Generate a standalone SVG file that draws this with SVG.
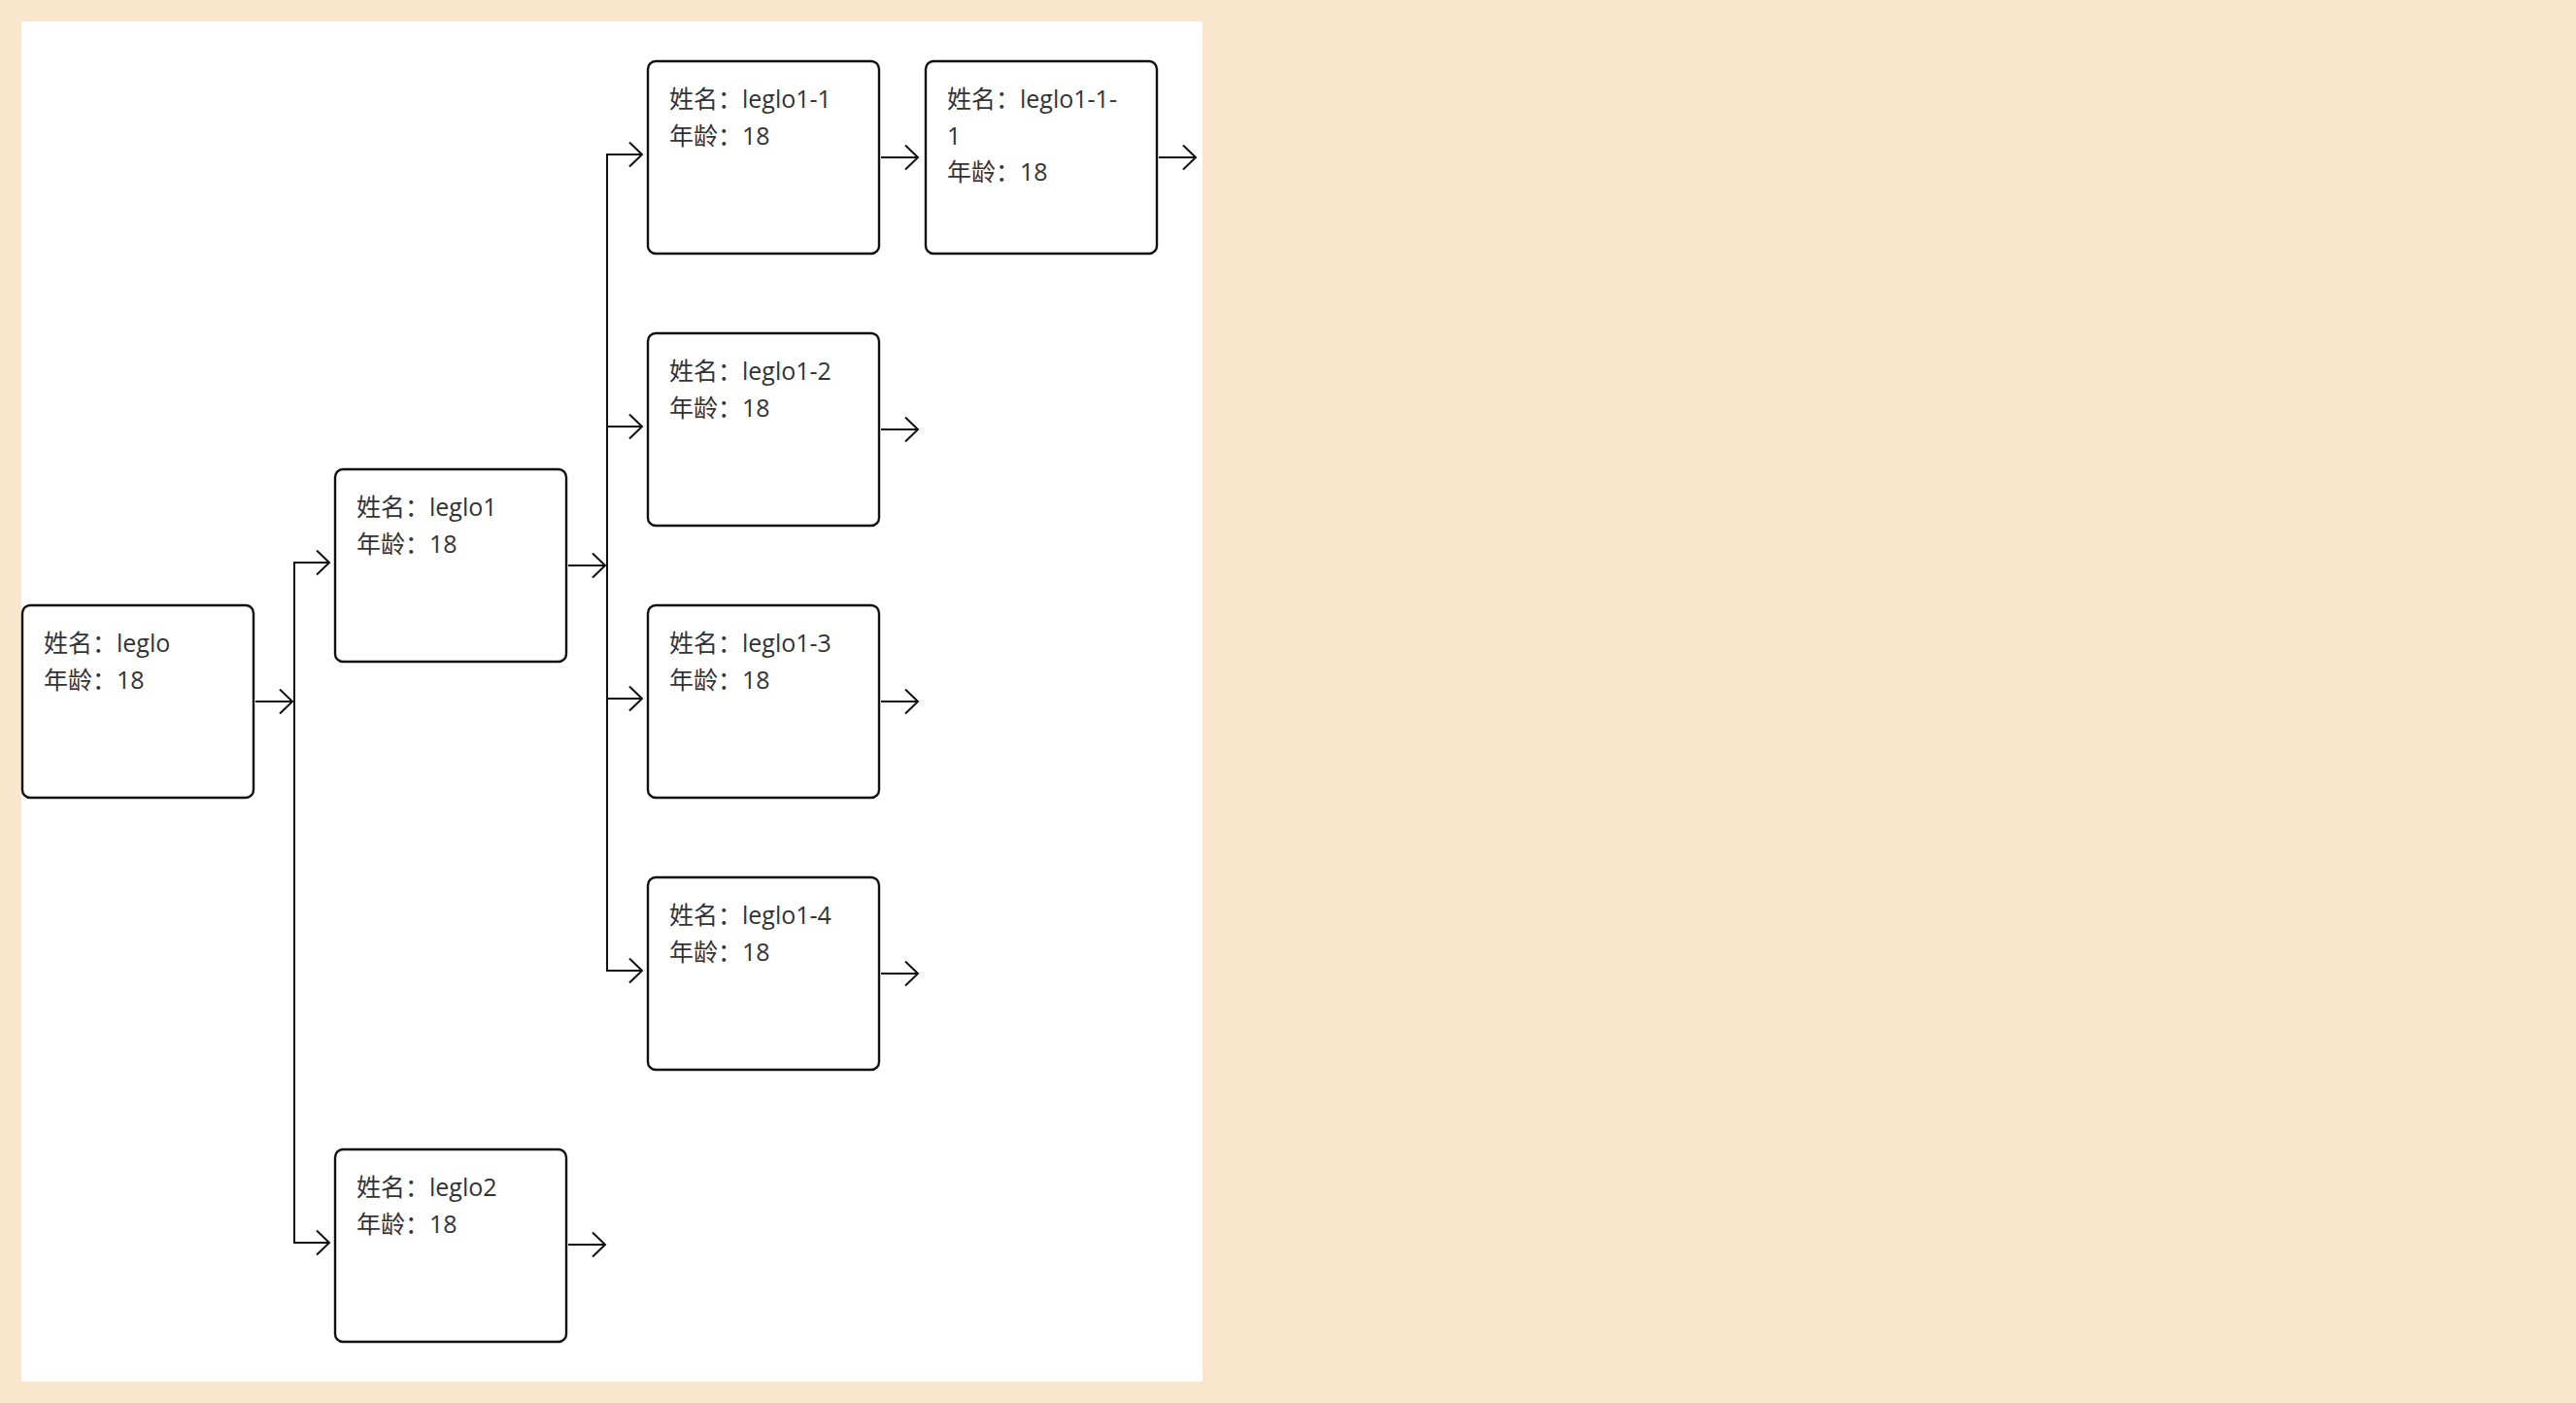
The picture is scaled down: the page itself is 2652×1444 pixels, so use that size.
<svg xmlns="http://www.w3.org/2000/svg" width="2652" height="1444" viewBox="0 0 2652 1444">
<style>
.bg{fill:#F9E6CD}
.panel{fill:#FFFFFF}
.box{fill:#FFFFFF;stroke:#111111;stroke-width:2.4}
.t{font-family:"Open Sans","Noto Sans CJK SC",sans-serif;font-size:25px;fill:#333333}
.c{fill:none;stroke:#111111;stroke-width:2}
.a{fill:none;stroke:#111111;stroke-width:2;marker-end:url(#arr)}
</style>
<defs>
<marker id="arr" markerUnits="userSpaceOnUse" markerWidth="30" markerHeight="30" viewBox="-16 -15 18 30" refX="0" refY="0" orient="auto" overflow="visible">
<path d="M-13,-12.5 L0,0 L-13,12.5" fill="none" stroke="#111111" stroke-width="2"/>
</marker>
</defs>
<rect class="bg" x="0" y="0" width="2652" height="1444"/>
<rect class="panel" x="22" y="22" width="1216" height="1400"/>
<g id="connectors">
<path class="a" d="M263,722 H301"/>
<path class="c" d="M303,579 V1279"/>
<path class="a" d="M302,579 H339"/>
<path class="a" d="M302,1279 H339"/>
<path class="a" d="M585,582 H623"/>
<path class="c" d="M625,159 V999"/>
<path class="a" d="M624,159 H661"/>
<path class="a" d="M624,439 H661"/>
<path class="a" d="M624,719 H661"/>
<path class="a" d="M624,999 H661"/>
<path class="a" d="M907,162 H945"/>
<path class="a" d="M1193,162 H1231"/>
<path class="a" d="M907,442 H945"/>
<path class="a" d="M907,722 H945"/>
<path class="a" d="M907,1002 H945"/>
<path class="a" d="M585,1281 H623"/>
</g>
<g id="node-leglo">
<rect class="box" x="23" y="623" width="238" height="198" rx="8"/>
<text class="t" x="45" y="671">姓名：leglo</text>
<text class="t" x="45" y="708.5">年龄：18</text>
</g>
<g id="node-leglo1">
<rect class="box" x="345" y="483" width="238" height="198" rx="8"/>
<text class="t" x="367" y="531">姓名：leglo1</text>
<text class="t" x="367" y="568.5">年龄：18</text>
</g>
<g id="node-leglo2">
<rect class="box" x="345" y="1183" width="238" height="198" rx="8"/>
<text class="t" x="367" y="1231">姓名：leglo2</text>
<text class="t" x="367" y="1268.5">年龄：18</text>
</g>
<g id="node-leglo1-1">
<rect class="box" x="667" y="63" width="238" height="198" rx="8"/>
<text class="t" x="689" y="111">姓名：leglo1-1</text>
<text class="t" x="689" y="148.5">年龄：18</text>
</g>
<g id="node-leglo1-1-1">
<rect class="box" x="953" y="63" width="238" height="198" rx="8"/>
<text class="t" x="975" y="111">姓名：leglo1-1-</text>
<text class="t" x="975" y="148.5">1</text>
<text class="t" x="975" y="186">年龄：18</text>
</g>
<g id="node-leglo1-2">
<rect class="box" x="667" y="343" width="238" height="198" rx="8"/>
<text class="t" x="689" y="391">姓名：leglo1-2</text>
<text class="t" x="689" y="428.5">年龄：18</text>
</g>
<g id="node-leglo1-3">
<rect class="box" x="667" y="623" width="238" height="198" rx="8"/>
<text class="t" x="689" y="671">姓名：leglo1-3</text>
<text class="t" x="689" y="708.5">年龄：18</text>
</g>
<g id="node-leglo1-4">
<rect class="box" x="667" y="903" width="238" height="198" rx="8"/>
<text class="t" x="689" y="951">姓名：leglo1-4</text>
<text class="t" x="689" y="988.5">年龄：18</text>
</g>
</svg>
